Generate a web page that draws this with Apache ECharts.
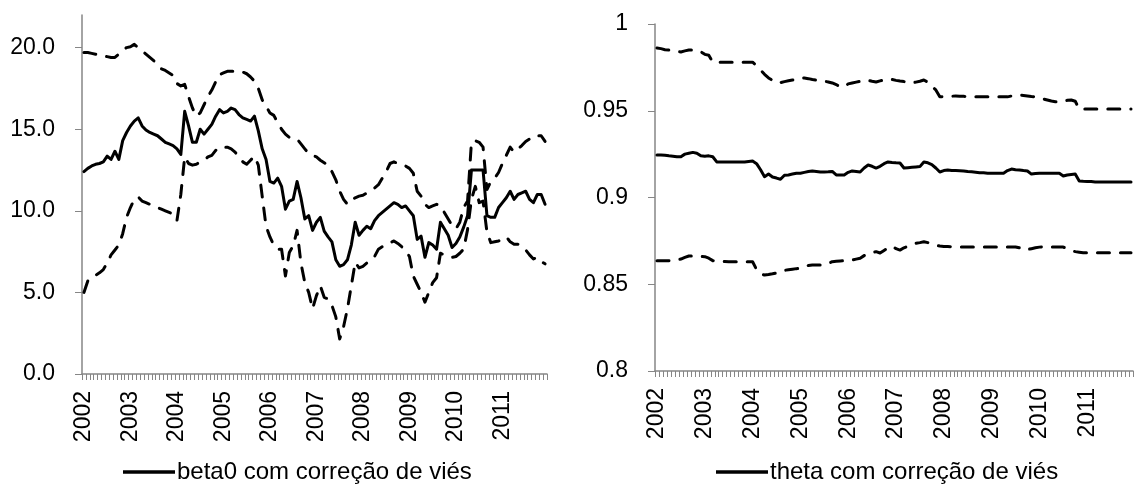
<!DOCTYPE html>
<html>
<head>
<meta charset="utf-8">
<script src="https://cdn.jsdelivr.net/npm/echarts@6/dist/echarts.min.js"></script>
<style>
  html, body { margin: 0; padding: 0; background: #fff; }
  #chart { width: 1135px; height: 484px; }
</style>
</head>
<body>
<div id="chart"></div>
<script>
// anos do eixo x (dados mensais, jan/2002 a dez/2011)
var years = [2002, 2003, 2004, 2005, 2006, 2007, 2008, 2009, 2010, 2011];

// beta0 com correção de viés e bandas (tracejadas)
var beta0 = [
  12.4, 12.6, 12.75, 12.85, 12.9, 13.0, 13.35, 13.15, 13.65, 13.15, 14.3, 14.8,
  15.2, 15.5, 15.7, 15.2, 14.95, 14.8, 14.7, 14.6, 14.4, 14.2, 14.1, 14.0,
  13.8, 13.45, 16.1, 15.2, 14.2, 14.2, 15.0, 14.7, 15.0, 15.3, 15.8, 16.2,
  16.0, 16.1, 16.3, 16.2, 15.9, 15.7, 15.6, 15.5, 15.8, 14.9, 13.8, 13.15,
  11.8, 11.7, 12.0, 11.5, 10.1, 10.6, 10.7, 11.8, 10.8, 9.5, 9.7, 8.8,
  9.3, 9.6, 8.75, 8.4, 8.1, 7.0, 6.6, 6.7, 7.0, 7.9, 9.3, 8.5,
  8.8, 9.05, 8.9, 9.4, 9.7, 9.9, 10.1, 10.3, 10.5, 10.4, 10.2, 10.3,
  10.0, 9.7, 8.25, 8.45, 7.15, 8.05, 7.9, 7.65, 9.3, 8.9, 8.5, 7.75,
  8.0, 8.4, 9.0, 9.7, 12.5, 12.5, 12.5, 12.5, 9.7, 9.6, 9.6, 10.2,
  10.5, 10.8, 11.2, 10.7, 11.0, 11.1, 11.2, 10.7, 10.5, 11.0, 11.0, 10.4
];
var beta0Sup = [
  19.7, 19.7, 19.65, 19.6, 19.55, 19.5, 19.45, 19.4, 19.4, 19.6, 19.85, 20.0,
  20.05, 20.2, 20.0, 19.8, 19.6, 19.4, 19.2, 19.0, 18.7, 18.6, 18.45, 18.3,
  17.8, 17.65, 17.75, 17.0, 16.3, 15.8, 16.0, 16.5, 17.0, 17.4, 17.9, 18.35,
  18.45, 18.55, 18.55, 18.55, 18.55, 18.5, 18.4, 18.2, 17.95, 17.5, 16.8, 16.4,
  16.0, 15.85, 15.4, 15.0, 14.7, 14.5, 14.45, 14.4, 14.1, 13.8, 13.5, 13.4,
  13.3, 13.1, 12.95, 12.8, 12.4, 11.9, 11.2, 10.7, 10.4, 10.65, 10.8, 10.9,
  10.95, 11.1, 11.25, 11.4, 11.6, 12.0, 12.4, 12.9, 13.0, 12.9, 12.85, 12.75,
  12.6, 12.3, 11.2, 10.9, 10.4, 10.2, 10.3, 10.4, 10.3, 9.9, 9.5, 9.1,
  8.9, 9.3, 10.2, 10.6, 14.2, 14.3, 14.2, 13.9, 11.3, 11.8, 12.0, 12.35,
  12.9, 13.4, 13.9, 13.6, 13.8, 14.0, 14.25, 14.4, 14.6, 14.6, 14.6, 14.25
];
var beta0Inf = [
  5.0, 5.7, 5.95, 6.05, 6.2, 6.4, 6.8, 7.3, 7.6, 7.9, 8.6, 9.6,
  10.2, 10.7, 10.85, 10.6, 10.5, 10.4, 10.3, 10.2, 10.1, 10.0, 9.9, 9.8,
  9.4, 11.0, 13.3, 12.9, 12.8, 12.85, 13.0, 13.1, 13.3, 13.4, 13.7, 13.9,
  13.9, 13.9, 13.8, 13.6, 13.3, 13.0, 12.85, 13.1, 13.35, 12.8, 10.9, 9.05,
  8.4, 7.9, 7.65, 7.65, 6.0, 7.45, 7.85, 8.8, 6.8, 5.6, 5.0, 4.0,
  4.8, 5.4, 4.7, 4.6, 4.2, 3.5, 2.15, 2.9, 4.0, 5.4, 6.85, 6.5,
  6.6, 6.8, 7.0, 7.2, 7.65, 7.8, 7.9, 8.05, 8.15, 8.0, 7.8, 7.55,
  7.2, 6.0, 5.5, 5.0, 4.4, 5.0, 5.6, 5.9, 7.4, 7.3, 7.2, 7.15,
  7.2, 7.4, 7.65, 8.85, 10.7, 11.5, 10.5, 10.6, 8.7, 8.05, 8.1, 8.15,
  8.3, 8.4, 8.1, 7.95, 7.95, 7.85, 7.6, 7.3, 7.05, 7.15, 6.9, 6.75
];

// theta com correção de viés e bandas
var theta = [
  0.9245, 0.9245, 0.9243, 0.924, 0.9238, 0.9235, 0.9235, 0.925, 0.9255, 0.926, 0.9255, 0.924,
  0.9238, 0.924, 0.9235, 0.9205, 0.9205, 0.9205, 0.9205, 0.9205, 0.9205, 0.9205, 0.9205, 0.9208,
  0.921, 0.9195, 0.916, 0.912, 0.9135, 0.9118, 0.9112, 0.9105, 0.9128, 0.913, 0.9135, 0.914,
  0.914, 0.9145, 0.915, 0.9153, 0.915, 0.9147, 0.9147, 0.9148, 0.915, 0.913, 0.913, 0.913,
  0.9145, 0.9153, 0.915, 0.9147, 0.917, 0.9187, 0.918, 0.917, 0.918, 0.9195, 0.9205, 0.9202,
  0.92, 0.9199, 0.917, 0.9172, 0.9174, 0.9176, 0.9178, 0.9205, 0.92, 0.919, 0.917, 0.9147,
  0.9155, 0.9158, 0.9156, 0.9155, 0.9154, 0.9153, 0.915, 0.9148, 0.9146, 0.9143, 0.9142, 0.914,
  0.914, 0.914, 0.914, 0.914, 0.9155, 0.9164, 0.916, 0.9158, 0.9155, 0.9153, 0.9135, 0.9138,
  0.914, 0.914, 0.914, 0.914, 0.914, 0.914, 0.9124, 0.913, 0.9133, 0.9135, 0.9095, 0.9093,
  0.9092, 0.9092, 0.909, 0.909, 0.909, 0.909, 0.909, 0.909, 0.909, 0.909, 0.909, 0.909
];
var thetaSup = [
  0.9862, 0.9858, 0.9852, 0.985, 0.9845, 0.9842, 0.9839, 0.9845, 0.985, 0.985, 0.985, 0.984,
  0.9825, 0.982, 0.978, 0.978, 0.978, 0.978, 0.978, 0.978, 0.978, 0.978, 0.978, 0.978,
  0.978, 0.976, 0.9735, 0.971, 0.9689, 0.9675, 0.966, 0.9662, 0.9668, 0.9673, 0.9677, 0.968,
  0.9685, 0.9689, 0.9685, 0.968, 0.9677, 0.9673, 0.967, 0.9666, 0.966, 0.965, 0.964, 0.9637,
  0.9655, 0.966, 0.9665, 0.967, 0.9677, 0.9675, 0.967, 0.9666, 0.9672, 0.9678, 0.9683, 0.968,
  0.9675, 0.9671, 0.9668, 0.9665, 0.966, 0.9665, 0.967, 0.9677, 0.9665, 0.964, 0.962, 0.958,
  0.9582, 0.9583, 0.9584, 0.9585, 0.9584, 0.9583, 0.9582, 0.9581, 0.958, 0.958, 0.958, 0.958,
  0.958, 0.958, 0.958, 0.958, 0.958, 0.9585, 0.9588, 0.9591, 0.9588, 0.9585, 0.9582, 0.958,
  0.9575, 0.9568, 0.9562, 0.9556, 0.9552, 0.955, 0.9555, 0.956, 0.9562, 0.9555, 0.951, 0.951,
  0.951, 0.951, 0.951, 0.951, 0.951, 0.951, 0.951, 0.951, 0.951, 0.951, 0.951, 0.951
];
var thetaInf = [
  0.8636, 0.8636, 0.8636, 0.8636, 0.8638, 0.8642, 0.8645, 0.8655, 0.8663, 0.8662, 0.866, 0.866,
  0.8659, 0.865, 0.8636, 0.8634, 0.8632, 0.8631, 0.863, 0.863, 0.863, 0.863, 0.863, 0.863,
  0.863, 0.8585, 0.856, 0.8553, 0.8556, 0.856, 0.8565, 0.8572, 0.858, 0.8584, 0.8587, 0.859,
  0.8592, 0.86, 0.8608, 0.8611, 0.8611, 0.8611, 0.8611, 0.862, 0.863, 0.8632, 0.8634, 0.8636,
  0.8638, 0.864, 0.8645, 0.865, 0.8665, 0.8675, 0.8683, 0.8688, 0.868, 0.8695, 0.871, 0.872,
  0.8705, 0.8697, 0.871, 0.872, 0.873, 0.8736, 0.874, 0.8745, 0.874, 0.8732, 0.8725, 0.872,
  0.8718, 0.8717, 0.8716, 0.8715, 0.8715, 0.8715, 0.8715, 0.8715, 0.8715, 0.8715, 0.8715, 0.8715,
  0.8715, 0.8715, 0.8715, 0.8715, 0.8715, 0.8715, 0.8715, 0.871, 0.8697, 0.87, 0.8705, 0.871,
  0.8714, 0.8716, 0.8714, 0.8714, 0.8714, 0.8714, 0.8714, 0.8705, 0.8695, 0.8688, 0.8685, 0.8682,
  0.8682, 0.8682, 0.8682, 0.8682, 0.8682, 0.8682, 0.8682, 0.8682, 0.8682, 0.8682, 0.8682, 0.8682
];

var beta0Ticks = [0, 5, 10, 15, 20];

// categorias mensais "AAAA-MM"
var months = [];
years.forEach(function (y) {
  for (var m = 1; m <= 12; m++) months.push(y + '-' + (m < 10 ? '0' + m : m));
});

var FONT = 'Liberation Sans';
var AXIS_GREY = '#868686';
var solid = { width: 3, color: '#000', cap: 'round', join: 'round' };
var dashed = { width: 3, color: '#000', type: [12, 11], cap: 'round', join: 'round' };

function xAxisFor(idx) {
  return {
    type: 'category',
    gridIndex: idx,
    data: months,
    boundaryGap: true,
    axisLine: { lineStyle: { color: AXIS_GREY, width: 1.5 } },
    // um traço por mês, rótulo só em janeiro
    axisTick: { show: true, interval: 0, length: 6, lineStyle: { color: AXIS_GREY, width: 1 } },
    axisLabel: {
      interval: 11,
      rotate: 90,
      margin: 17,
      color: '#000',
      fontFamily: FONT,
      fontSize: 23,
      formatter: function (v) { return v.slice(0, 4); }
    },
    splitLine: { show: false }
  };
}

function lineSeries(name, data, idx, style) {
  return {
    name: name,
    type: 'line',
    xAxisIndex: idx,
    yAxisIndex: idx,
    data: data,
    symbol: 'none',
    lineStyle: style,
    itemStyle: { color: '#000' },
    z: style.type ? 2 : 3
  };
}

var chart = echarts.init(document.getElementById('chart'));
chart.setOption({
  animation: false,
  backgroundColor: '#fff',
  grid: [
    { left: 82, top: 15, width: 465, height: 359 },
    { left: 655, top: 24, width: 478, height: 347 }
  ],
  legend: [
    {
      data: ['beta0 com correção de viés'],
      left: 118, top: 455,
      icon: 'rect', itemWidth: 52, itemHeight: 3.5,
      textStyle: { fontFamily: FONT, fontSize: 24, color: '#000', padding: [0, 0, 0, -3] }
    },
    {
      data: ['theta com correção de viés'],
      left: 711, top: 455,
      icon: 'rect', itemWidth: 52, itemHeight: 3.5,
      textStyle: { fontFamily: FONT, fontSize: 24, color: '#000', padding: [0, 0, 0, -3] }
    }
  ],
  xAxis: [xAxisFor(0), xAxisFor(1)],
  yAxis: [
    {
      type: 'value',
      gridIndex: 0,
      min: 0,
      max: 22,
      axisLine: { show: true, lineStyle: { color: AXIS_GREY, width: 1.5 } },
      axisTick: { show: true, length: 7, customValues: beta0Ticks, lineStyle: { color: AXIS_GREY } },
      axisLabel: {
        customValues: beta0Ticks,
        margin: 27,
        color: '#000',
        fontFamily: FONT,
        fontSize: 23,
        formatter: function (v) { return v.toFixed(1); }
      },
      splitLine: { show: false }
    },
    {
      type: 'value',
      gridIndex: 1,
      min: 0.8,
      max: 1,
      interval: 0.05,
      axisLine: { show: true, lineStyle: { color: AXIS_GREY, width: 1.5 } },
      axisTick: { show: true, length: 7, lineStyle: { color: AXIS_GREY } },
      axisLabel: { margin: 27, color: '#000', fontFamily: FONT, fontSize: 23 },
      splitLine: { show: false }
    }
  ],
  series: [
    lineSeries('beta0 sup', beta0Sup, 0, dashed),
    lineSeries('beta0 inf', beta0Inf, 0, dashed),
    lineSeries('beta0 com correção de viés', beta0, 0, solid),
    lineSeries('theta sup', thetaSup, 1, dashed),
    lineSeries('theta inf', thetaInf, 1, dashed),
    lineSeries('theta com correção de viés', theta, 1, solid)
  ]
});
</script>
</body>
</html>
